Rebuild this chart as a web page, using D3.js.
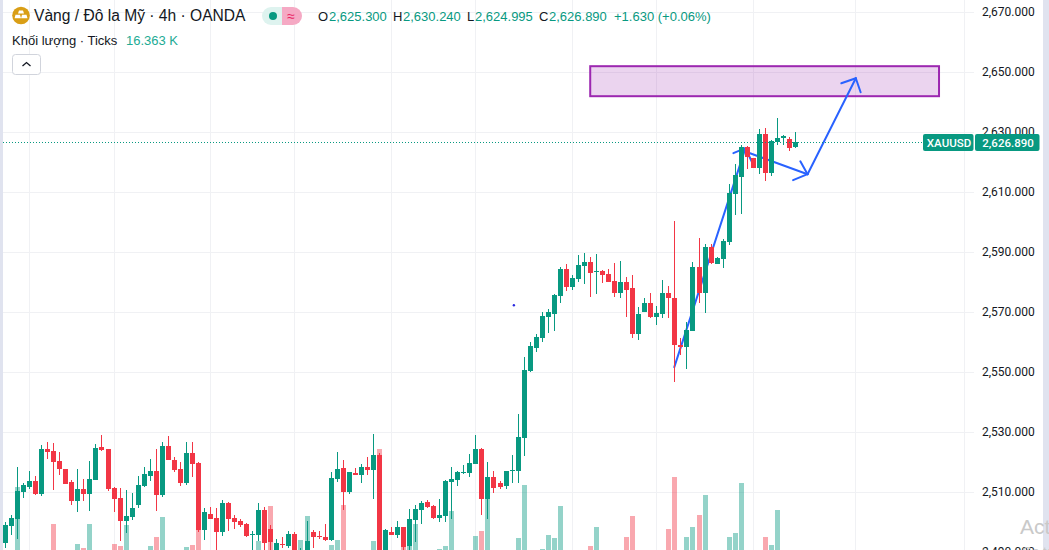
<!DOCTYPE html>
<html>
<head>
<meta charset="utf-8">
<script src="https://cdn.jsdelivr.net/npm/d3@7"></script>
<style>
  html, body { margin: 0; padding: 0; background: #fff; overflow: hidden; }
  svg { display: block; font-family: "Liberation Sans", Roboto, sans-serif; }
</style>
</head>
<body>
<div id="chart"></div>
<script>
// xau/usd 4h candles, oldest first
var opens = [
  2493.3, 2498.8, 2501.2, 2510.2, 2511.8, 2513.8, 2509.5, 2524.5, 2523.8, 2520.5,
  2517.8, 2513.5, 2507.2, 2511.2, 2509.5, 2514.2, 2525.2, 2524.5, 2511.5, 2508.2,
  2500.5, 2501.8, 2505.8, 2512.2, 2515.5, 2517.2, 2509.2, 2525.5, 2520.8, 2517.8,
  2513.2, 2523.2, 2519.8, 2497.5, 2502.8, 2501.5, 2496.8, 2506.5, 2501.5, 2500.5,
  2499.5, 2495.8, 2495.8, 2504.2, 2497.8, 2489.2, 2492.8, 2492.2, 2496.2, 2486.0,
  2489.7, 2496.8, 2495.5, 2495.2, 2494.2, 2514.5, 2518.2, 2510.2, 2516.5, 2515.8,
  2518.5, 2517.5, 2522.5, 2489.7, 2496.8, 2495.8, 2498.5, 2492.2, 2500.8, 2504.2,
  2506.8, 2505.5, 2501.5, 2502.2, 2513.5, 2514.2, 2516.5, 2516.5, 2519.5, 2524.5,
  2507.8, 2515.2, 2513.2, 2512.2, 2517.2, 2517.2, 2528.2, 2550.5, 2558.2, 2561.5,
  2568.5, 2569.5, 2575.5, 2584.5, 2578.5, 2581.2, 2585.5, 2586.8, 2583.5, 2583.8,
  2582.8, 2580.5, 2576.5, 2580.2, 2578.2, 2562.8, 2570.2, 2573.2, 2568.5, 2569.5,
  2576.5, 2574.8, 2559.2, 2558.5, 2563.8, 2585.2, 2576.5, 2591.8, 2586.2, 2587.8,
  2593.5, 2609.5, 2615.2, 2625.2, 2621.5, 2618.2, 2629.5, 2616.5, 2626.8, 2628.2,
  2627.8, 2625.3
];
var closes = [
  2499.2, 2501.5, 2510.5, 2512.5, 2513.8, 2509.5, 2524.5, 2523.5, 2520.2, 2517.8,
  2512.8, 2507.2, 2511.2, 2509.5, 2514.5, 2524.8, 2524.2, 2511.2, 2507.8, 2500.5,
  2502.2, 2504.8, 2512.5, 2516.2, 2517.2, 2509.2, 2525.5, 2520.8, 2517.5, 2513.2,
  2523.2, 2519.5, 2497.5, 2503.5, 2501.2, 2496.8, 2506.5, 2501.2, 2500.2, 2499.2,
  2495.5, 2496.2, 2504.2, 2493.1, 2493.6, 2493.2, 2492.4, 2496.2, 2489.7, 2488.0,
  2493.7, 2495.2, 2495.1, 2494.2, 2514.8, 2517.8, 2510.2, 2516.8, 2515.8, 2518.5,
  2517.5, 2522.5, 2489.7, 2497.5, 2495.8, 2498.5, 2491.8, 2501.2, 2504.5, 2506.5,
  2505.2, 2501.5, 2502.5, 2513.8, 2514.5, 2516.8, 2516.8, 2519.8, 2524.5, 2507.8,
  2515.2, 2511.5, 2511.8, 2517.2, 2517.5, 2528.5, 2550.8, 2558.8, 2561.8, 2568.8,
  2570.2, 2575.8, 2584.5, 2578.5, 2581.5, 2585.8, 2586.8, 2583.2, 2583.8, 2582.5,
  2580.2, 2576.5, 2580.2, 2577.5, 2562.8, 2569.5, 2573.2, 2568.5, 2569.8, 2576.5,
  2574.8, 2559.2, 2558.5, 2564.2, 2585.2, 2576.5, 2591.8, 2586.5, 2588.2, 2593.8,
  2609.8, 2615.8, 2625.2, 2621.8, 2618.2, 2629.5, 2616.5, 2627.2, 2628.2, 2628.8,
  2624.8, 2626.89
];
var highs = [
  2500.3, 2502.5, 2518.5, 2513.2, 2517.2, 2515.5, 2525.8, 2526.8, 2526.5, 2523.5,
  2517.8, 2514.2, 2517.8, 2514.5, 2520.5, 2526.2, 2529.2, 2524.5, 2511.8, 2511.5,
  2510.8, 2509.8, 2515.5, 2518.5, 2521.2, 2524.5, 2526.8, 2528.8, 2521.8, 2520.2,
  2526.8, 2526.8, 2520.2, 2504.8, 2505.2, 2504.8, 2507.5, 2506.8, 2502.5, 2501.2,
  2499.8, 2497.2, 2506.5, 2505.2, 2499.2, 2494.5, 2495.2, 2497.2, 2496.8, 2491.5,
  2500.5, 2497.5, 2497.2, 2499.5, 2516.8, 2523.5, 2520.8, 2516.8, 2518.2, 2519.5,
  2521.8, 2529.5, 2523.2, 2497.8, 2498.5, 2500.5, 2498.5, 2504.5, 2505.8, 2507.2,
  2507.5, 2505.8, 2507.8, 2514.2, 2518.5, 2517.2, 2519.2, 2522.8, 2529.2, 2524.8,
  2520.2, 2517.2, 2513.8, 2517.2, 2522.5, 2536.2, 2555.2, 2560.2, 2562.8, 2570.2,
  2571.2, 2576.2, 2585.2, 2586.2, 2582.5, 2589.2, 2589.8, 2588.5, 2589.5, 2584.2,
  2584.5, 2586.5, 2587.2, 2581.8, 2582.5, 2571.8, 2574.8, 2576.5, 2572.2, 2580.8,
  2578.8, 2600.5, 2561.5, 2566.8, 2586.8, 2594.8, 2592.8, 2592.8, 2588.5, 2594.5,
  2612.8, 2619.5, 2625.8, 2625.5, 2621.5, 2631.2, 2631.5, 2627.5, 2634.8, 2629.2,
  2628.5, 2630.24
];
var lows = [
  2491.4, 2495.8, 2494.6, 2508.2, 2511.2, 2509.3, 2508.8, 2521.2, 2510.8, 2515.8,
  2512.8, 2505.8, 2503.5, 2507.2, 2503.8, 2514.2, 2523.8, 2510.5, 2503.5, 2493.8,
  2496.5, 2500.8, 2504.8, 2511.8, 2513.8, 2503.8, 2508.5, 2520.8, 2516.8, 2512.2,
  2512.5, 2515.2, 2496.8, 2494.2, 2501.2, 2489.7, 2495.5, 2497.2, 2497.8, 2498.5,
  2495.3, 2489.7, 2493.8, 2489.5, 2489.5, 2487.5, 2491.4, 2491.5, 2487.5, 2485.0,
  2488.6, 2491.5, 2494.5, 2493.8, 2493.8, 2513.5, 2504.2, 2509.5, 2515.8, 2513.2,
  2515.8, 2507.8, 2487.5, 2488.6, 2495.8, 2494.8, 2489.7, 2489.7, 2493.5, 2499.5,
  2504.8, 2501.2, 2500.2, 2500.2, 2501.2, 2512.2, 2516.2, 2515.2, 2519.5, 2502.5,
  2501.2, 2509.8, 2511.2, 2511.2, 2513.2, 2513.2, 2522.2, 2550.2, 2556.8, 2560.2,
  2563.2, 2563.8, 2573.2, 2577.2, 2577.5, 2580.2, 2579.5, 2575.2, 2576.2, 2579.8,
  2580.2, 2575.2, 2574.8, 2568.5, 2561.5, 2560.8, 2570.2, 2568.2, 2565.8, 2568.2,
  2568.2, 2546.8, 2555.8, 2551.2, 2563.8, 2573.2, 2569.8, 2586.2, 2586.2, 2584.8,
  2592.5, 2602.5, 2602.8, 2617.8, 2618.2, 2616.2, 2613.8, 2615.5, 2625.8, 2625.8,
  2623.8, 2624.995
];
// tick volume in K, most bars sit below the bottom edge of the window
var volumes = [
  18, 21, 88, 16, 14, 19, 22, 15, 51, 17,
  20, 13, 31, 27, 51, 18, 16, 14, 31, 29,
  50, 19, 15, 17, 29, 38, 58, 21, 18, 16,
  28, 30, 45, 22, 14, 19, 17, 15, 13, 16,
  18, 20, 34, 23, 69, 17, 14, 21, 19, 35,
  59, 15, 13, 16, 30, 35, 70, 18, 14, 17,
  20, 34, 126, 22, 16, 15, 28, 29, 51, 19,
  14, 18, 26, 29, 64, 16, 13, 19, 39, 44,
  76, 21, 17, 15, 18, 37, 90, 22, 16, 26,
  40, 37, 69, 20, 15, 18, 14, 29, 48, 17,
  13, 16, 19, 38, 59, 23, 15, 18, 14, 21,
  46, 98, 19, 38, 48, 60, 80, 22, 16, 18,
  38, 42, 92, 20, 17, 23, 38, 30, 65, 15,
  19, 16.363
];
var priceTicks = [2670, 2650, 2630, 2610, 2590, 2570, 2550, 2530, 2510, 2490];
var gridBars = [4, 18, 34, 48, 64, 78, 94, 108, 124, 141, 159];
var lastClose = 2626.89;

// drawings on the chart, [bar index, price]
var zone = { from: 96.96, to: 154.8, top: 2652.1, bottom: 2642.1 };
var arrowLines = [
  [[110.9, 2551.8], [122.7, 2624.8]],
  [[122.7, 2624.8], [120.7, 2623.1]],
  [[122.7, 2624.8], [123.8, 2620.1]],
  [[123.0, 2623.4], [133, 2616.1]],
  [[133, 2616.1], [131.8, 2620.4]],
  [[133, 2616.1], [130.6, 2614.1]],
  [[133, 2616.1], [141, 2648.1]],
  [[141, 2648.1], [138.6, 2646.4]],
  [[141, 2648.1], [141.8, 2643.4]]
];
var strayDot = [84.3, 2572.4];

var green = "#089981", red = "#f23645";
var width = 1049, height = 550;

var x = d3.scaleLinear().domain([0, 131]).range([5.5, 795.5]);
var y = d3.scaleLinear().domain([2670, 2490]).range([12.5, 552.5]);
var vol = d3.scaleLinear().domain([0, 100]).range([575, 475]);

function col(i) { return Math.floor(x(i)); }

var svg = d3.select("#chart").append("svg")
  .attr("width", width)
  .attr("height", height);

// grid
svg.append("g").selectAll("line")
  .data(priceTicks)
  .join("line")
  .attr("x1", 3).attr("x2", 974)
  .attr("y1", d => Math.floor(y(d)) + .5).attr("y2", d => Math.floor(y(d)) + .5)
  .attr("stroke", "#f0f1f4");

svg.append("g").selectAll("line")
  .data(gridBars)
  .join("line")
  .attr("x1", d => col(d) + .5).attr("x2", d => col(d) + .5)
  .attr("y1", 0).attr("y2", height)
  .attr("stroke", "#f0f1f4");

var bars = d3.range(opens.length);

// volume
svg.append("g").selectAll("rect")
  .data(bars)
  .join("rect")
  .attr("x", i => col(i) - 2)
  .attr("width", 5)
  .attr("y", i => Math.round(vol(volumes[i])))
  .attr("height", i => vol(0) - Math.round(vol(volumes[i])))
  .attr("fill", i => closes[i] >= opens[i] ? green : red)
  .attr("opacity", .43);

// purple zone
svg.append("rect")
  .attr("x", x(zone.from))
  .attr("width", x(zone.to) - x(zone.from))
  .attr("y", y(zone.top))
  .attr("height", y(zone.bottom) - y(zone.top))
  .attr("fill", "rgba(156,39,176,.2)")
  .attr("stroke", "#9c27b0")
  .attr("stroke-width", 2);

// arrows
svg.append("g").selectAll("line")
  .data(arrowLines)
  .join("line")
  .attr("x1", d => x(d[0][0])).attr("y1", d => y(d[0][1]))
  .attr("x2", d => x(d[1][0])).attr("y2", d => y(d[1][1]))
  .attr("stroke", "#2962ff")
  .attr("stroke-width", 2)
  .attr("stroke-linecap", "round");

svg.append("circle")
  .attr("cx", x(strayDot[0])).attr("cy", y(strayDot[1]))
  .attr("r", 1.2)
  .attr("fill", "#2a2ae0");

// candles
var candles = svg.append("g");
candles.selectAll(".wick")
  .data(bars)
  .join("rect")
  .attr("class", "wick")
  .attr("x", i => col(i))
  .attr("width", 1)
  .attr("y", i => Math.round(y(highs[i])))
  .attr("height", i => Math.round(y(lows[i])) - Math.round(y(highs[i])))
  .attr("fill", i => closes[i] >= opens[i] ? green : red);

candles.selectAll(".body")
  .data(bars)
  .join("rect")
  .attr("class", "body")
  .attr("x", i => col(i) - 2)
  .attr("width", 5)
  .attr("y", i => Math.round(y(Math.max(opens[i], closes[i]))))
  .attr("height", i => Math.max(1, Math.round(y(Math.min(opens[i], closes[i]))) - Math.round(y(Math.max(opens[i], closes[i])))))
  .attr("fill", i => closes[i] >= opens[i] ? green : red);

// last price line
svg.append("line")
  .attr("x1", 3).attr("x2", 923)
  .attr("y1", Math.round(y(lastClose)) + .5).attr("y2", Math.round(y(lastClose)) + .5)
  .attr("stroke", green)
  .attr("stroke-dasharray", "1,2");

// price axis
var axis = svg.append("g")
  .attr("transform", "translate(982,-1)")
  .call(d3.axisRight(y).tickValues(priceTicks).tickSize(0).tickPadding(0).tickFormat(d3.format(",.3f")));
axis.select(".domain").remove();
axis.selectAll("text")
  .attr("fill", "#131722")
  .style("font-size", "12px")
  .style("font-family", "Roboto, sans-serif");

// price tags
var tagY = Math.round(y(lastClose)) - 8;
svg.append("rect").attr("x", 923).attr("y", tagY).attr("width", 50.5).attr("height", 17).attr("rx", 2).attr("fill", green);
svg.append("rect").attr("x", 975).attr("y", tagY).attr("width", 64.5).attr("height", 17).attr("rx", 2).attr("fill", green);
svg.append("text").attr("x", 949).attr("y", tagY + 13).attr("text-anchor", "middle")
  .attr("fill", "#fff").attr("font-size", 11.5).attr("font-weight", 500).style("font-family", "Roboto, sans-serif").text("XAUUSD");
svg.append("text").attr("x", 1008).attr("y", tagY + 13).attr("text-anchor", "middle")
  .attr("fill", "#fff").attr("font-size", 11.5).attr("font-weight", 500).style("font-family", "Roboto, sans-serif").text(d3.format(",.3f")(lastClose));

// side strips
svg.append("rect").attr("x", 0).attr("y", 0).attr("width", 3).attr("height", height).attr("fill", "#e0e3ef");
svg.append("rect").attr("x", 1043).attr("y", 0).attr("width", 6).attr("height", height).attr("fill", "#e0e3ef");

// legend
var legend = svg.append("g");
legend.append("circle").attr("cx", 21).attr("cy", 15.5).attr("r", 8.8).attr("fill", "#d99e16");
legend.append("path").attr("d", "M19 10.5h4l1 3h-6zM15.5 14.8h4.5l1 3.4h-6.4zM22 14.8h4.5l1 3.4h-6.4z").attr("fill", "#fff");
legend.append("text").attr("x", 34).attr("y", 21).attr("font-size", 15.6).attr("fill", "#131722").text("Vàng / Đô la Mỹ · 4h · OANDA");

legend.append("path").attr("d", "M282 7h-11a9 9 0 0 0 0 18h11z").attr("fill", "#def3ef");
legend.append("path").attr("d", "M282 7h11a9 9 0 0 1 0 18h-11z").attr("fill", "#f5a9c4");
legend.append("circle").attr("cx", 273).attr("cy", 16).attr("r", 4).attr("fill", green);
legend.append("text").attr("x", 291).attr("y", 21).attr("text-anchor", "middle").attr("font-size", 14).attr("fill", "#e91e63").text("≈");

var ohlcLabels = ["O", "H", "L", "C"];
var ohlcLabelX = [318, 393, 467, 539];
var ohlcValueX = [329, 403, 475, 549];
var ohlcValues = [2625.3, 2630.24, 2624.995, 2626.89];
legend.selectAll(".ohlc-l")
  .data(ohlcLabels)
  .join("text")
  .attr("class", "ohlc-l")
  .attr("x", (d, i) => ohlcLabelX[i]).attr("y", 21)
  .attr("font-size", 13).attr("fill", "#131722")
  .text(d => d);
legend.selectAll(".ohlc-v")
  .data(ohlcValues)
  .join("text")
  .attr("class", "ohlc-v")
  .attr("x", (d, i) => ohlcValueX[i]).attr("y", 21)
  .attr("font-size", 13).attr("fill", green)
  .text(d => d3.format(",.3f")(d));
legend.append("text").attr("x", 614).attr("y", 21).attr("font-size", 13).attr("fill", green).text("+1.630 (+0.06%)");

legend.append("text").attr("x", 12).attr("y", 45).attr("font-size", 13).attr("fill", "#131722").text("Khối lượng · Ticks");
legend.append("text").attr("x", 126).attr("y", 45).attr("font-size", 13).attr("fill", "#22ab94").text("16.363 K");

legend.append("rect").attr("x", 12.5).attr("y", 54.5).attr("width", 28).attr("height", 20).attr("rx", 3)
  .attr("fill", "#fff").attr("stroke", "#d1d4dc");
legend.append("path").attr("d", "M22.5 66l4-3.5 4 3.5").attr("fill", "none").attr("stroke", "#131722").attr("stroke-width", 1.3);

// windows watermark
svg.append("text").attr("x", 1020).attr("y", 534).attr("font-size", 21).attr("fill", "#c9c9c9").text("Act");
svg.append("text").attr("x", 1022).attr("y", 556).attr("font-size", 13).attr("fill", "#c9c9c9").text("Go to");
</script>
</body>
</html>
